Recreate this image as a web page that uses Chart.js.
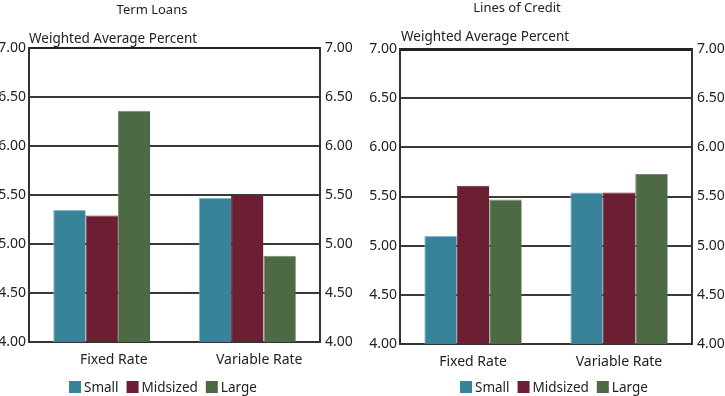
<!DOCTYPE html>
<html>
<head>
<meta charset="utf-8">
<script src="https://cdn.jsdelivr.net/npm/chart.js@4"></script>
<style>
  body { margin: 0; background: #fff; }
  #wrap { position: relative; width: 725px; height: 396px; }
  .box { position: absolute; top: 0; height: 396px; }
</style>
</head>
<body>
<div id="wrap">
  <div class="box" style="left:0;width:362px"><canvas id="termChart"></canvas></div>
  <div class="box" style="left:362px;width:363px"><canvas id="creditChart"></canvas></div>
</div>
<script>
const categories = ['Fixed Rate', 'Variable Rate'];
const seriesNames = ['Small', 'Midsized', 'Large'];
const seriesColors = ['#36839a', '#6c1f33', '#4e6a44'];
const edgeColors = ['#86bccb', '#6c1f33', '#6f8a67'];
const yTicks = [4.0, 4.5, 5.0, 5.5, 6.0, 6.5, 7.0];

// Term Loans
const termSmall = [5.35, 5.47];
const termMidsized = [5.29, 5.49];
const termLarge = [6.36, 4.88];

// Lines of Credit
const creditSmall = [5.10, 5.54];
const creditMidsized = [5.61, 5.54];
const creditLarge = [5.47, 5.73];

const FONT = "'Noto Sans', sans-serif";

// titles, axis caption and legend drawn on the canvas
const textPlugin = {
    id: 'texts',
    afterDraw(chart, args, opts) {
        const ctx = chart.ctx;
        const area = chart.chartArea;
        ctx.save();
        ctx.fillStyle = '#222';
        ctx.textBaseline = 'middle';
        ctx.font = '13px ' + FONT;
        ctx.textAlign = 'center';
        ctx.fillText(opts.title, opts.titleX, opts.titleY);
        ctx.textAlign = 'left';
        ctx.font = '13.5px ' + FONT;
        ctx.fillText('Weighted Average Percent', area.left + opts.captionDx, opts.captionY);

        // legend
        let x = opts.legendX;
        const y = 387;
        chart.data.datasets.forEach(ds => {
            ctx.fillStyle = ds.backgroundColor;
            ctx.fillRect(x, y - 6, 12, 12);
            x += 15;
            ctx.fillStyle = '#222';
            ctx.fillText(ds.label, x, y + 1);
            x += ctx.measureText(ds.label).width + 8;
        });
        ctx.restore();
    }
};

function makeChart(id, values, cfg) {
    const datasets = seriesNames.map((name, i) => ({
        label: name,
        data: values[i],
        backgroundColor: seriesColors[i],
        borderColor: edgeColors[i],
        borderWidth: { top: 1, left: 1, right: 0, bottom: 0 },
        borderSkipped: 'bottom',
        barPercentage: 1,
        categoryPercentage: 0.667
    }));

    return new Chart(document.getElementById(id), {
        type: 'bar',
        data: { labels: categories, datasets: datasets },
        options: {
            responsive: true,
            maintainAspectRatio: false,
            animation: false,
            layout: { padding: { top: cfg.top, left: 0, right: 0, bottom: 0 } },
            plugins: {
                legend: { display: false },
                tooltip: { enabled: false },
                texts: cfg.texts
            },
            scales: {
                x: {
                    grid: { display: false },
                    border: { display: true, color: '#333', width: 2 },
                    ticks: {
                        color: '#222',
                        font: { family: FONT, size: 14 },
                        padding: 2,
                        labelOffset: cfg.labelOffset
                    },
                    afterFit: s => { s.height = cfg.bottom; }
                },
                y: {
                    position: 'left',
                    min: 4, max: 7,
                    afterBuildTicks: s => { s.ticks = yTicks.map(v => ({ value: v })); },
                    grid: {
                        color: c => (c.tick && c.tick.value === 7 ? '#222' : '#3a3a3a'),
                        lineWidth: c => (c.tick && c.tick.value === 7 ? cfg.topLine : 2),
                        drawTicks: false
                    },
                    border: { display: true, color: '#333', width: 2 },
                    ticks: {
                        color: '#222',
                        font: { family: FONT, size: 14 },
                        padding: 3,
                        callback: v => Number(v).toFixed(2)
                    },
                    afterFit: s => { s.width = cfg.leftW; }
                },
                y2: {
                    position: 'right',
                    min: 4, max: 7,
                    afterBuildTicks: s => { s.ticks = yTicks.map(v => ({ value: v })); },
                    grid: { display: false, drawTicks: false },
                    border: { display: true, color: '#333', width: 2 },
                    ticks: {
                        color: '#222',
                        font: { family: FONT, size: 14 },
                        padding: 5,
                        callback: v => Number(v).toFixed(2)
                    },
                    afterFit: s => { s.width = cfg.rightW; }
                }
            }
        },
        plugins: [textPlugin]
    });
}

makeChart('termChart', [termSmall, termMidsized, termLarge], {
    top: 48, bottom: 54, leftW: 29, rightW: 42, labelOffset: 12, topLine: 2,
    texts: { title: 'Term Loans', titleX: 152, titleY: 10, captionDx: 0, captionY: 39, legendX: 69 }
});

makeChart('creditChart', [creditSmall, creditMidsized, creditLarge], {
    top: 49, bottom: 52, leftW: 38, rightW: 33, labelOffset: 0, topLine: 3,
    texts: { title: 'Lines of Credit', titleX: 155, titleY: 8, captionDx: 1, captionY: 37, legendX: 98 }
});
</script>
</body>
</html>
